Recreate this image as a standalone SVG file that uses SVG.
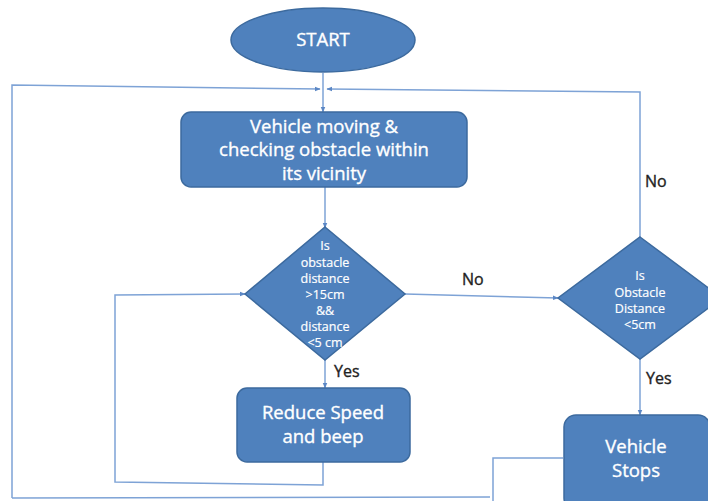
<svg xmlns="http://www.w3.org/2000/svg" width="708" height="501" viewBox="0 0 708 501">
<style>
.node{fill:#4F81BD;stroke:#3C6A9E;stroke-width:1.5}
.t{fill:#fff;stroke:#fff;stroke-width:0.35;font-family:"Open Sans","Liberation Sans",Arial,sans-serif;text-anchor:middle}
.big{font-size:18.5px}
.small{font-size:12.5px;stroke-width:0.2}
.lbl{fill:#222;stroke:#222;stroke-width:0.35;font-family:"Open Sans","Liberation Sans",Arial,sans-serif;font-size:16px}
.c{fill:none;stroke:#7EA3D6;stroke-width:1.5}
</style>
<defs>
<marker id="ah" viewBox="0 0 10 10" refX="9" refY="5" markerWidth="6" markerHeight="6" orient="auto-start-reverse" markerUnits="userSpaceOnUse">
<path d="M0,1 L10,5 L0,9 z" fill="#5B87C5"/>
</marker>
</defs>
<rect width="708" height="501" fill="#fff"/>
<g id="connectors">
<path class="c" d="M323,73 L323,112" marker-end="url(#ah)"/>
<path class="c" d="M12,498 L12,85 L320,89" marker-end="url(#ah)"/>
<path class="c" d="M640,238 L640,92 L327,89" marker-end="url(#ah)"/>
<path class="c" d="M325,187 L325,228" marker-end="url(#ah)"/>
<path class="c" d="M405,294 L558,298" marker-end="url(#ah)"/>
<path class="c" d="M325,358 L325,388" marker-end="url(#ah)"/>
<path class="c" d="M323,462 L323,485 L115,482 L115,295 L245,294" marker-end="url(#ah)"/>
<path class="c" d="M640,359 L640,415" marker-end="url(#ah)"/>
<path class="c" d="M563,458 L493,458 L493,501"/>
<path class="c" d="M12,498 L490,497"/>
</g>
<g id="start">
<ellipse class="node" cx="323" cy="40" rx="92" ry="32"/>
<text class="t big" x="323" y="46">START</text>
</g>
<g id="moving">
<rect class="node" x="181" y="112" width="286" height="75" rx="10"/>
<text class="t big" x="324" y="133">Vehicle moving &amp;</text>
<text class="t big" x="324" y="156">checking obstacle within</text>
<text class="t big" x="324" y="180">its vicinity</text>
</g>
<g id="decision1">
<polygon class="node" points="325,227 405,294 325,360 245,294"/>
<text class="t small" x="325" y="250">Is</text>
<text class="t small" x="325" y="267">obstacle</text>
<text class="t small" x="325" y="283">distance</text>
<text class="t small" x="325" y="299">&gt;15cm</text>
<text class="t small" x="325" y="315">&amp;&amp;</text>
<text class="t small" x="325" y="331">distance</text>
<text class="t small" x="325" y="347">&lt;5 cm</text>
</g>
<g id="decision2">
<polygon class="node" points="640,237 722,298 640,359 558,298"/>
<text class="t small" x="640" y="280">Is</text>
<text class="t small" x="640" y="297">Obstacle</text>
<text class="t small" x="640" y="313">Distance</text>
<text class="t small" x="640" y="329">&lt;5cm</text>
</g>
<g id="reduce">
<rect class="node" x="237" y="388" width="173" height="74" rx="10"/>
<text class="t big" x="323" y="419">Reduce Speed</text>
<text class="t big" x="323" y="443">and beep</text>
</g>
<g id="stops">
<rect class="node" x="564" y="415" width="146" height="95" rx="12"/>
<text class="t big" x="636" y="453">Vehicle</text>
<text class="t big" x="636" y="477">Stops</text>
</g>
<g id="labels">
<text class="lbl" x="462" y="285">No</text>
<text class="lbl" x="645" y="187">No</text>
<text class="lbl" x="334" y="377">Yes</text>
<text class="lbl" x="646" y="384">Yes</text>
</g>
</svg>
